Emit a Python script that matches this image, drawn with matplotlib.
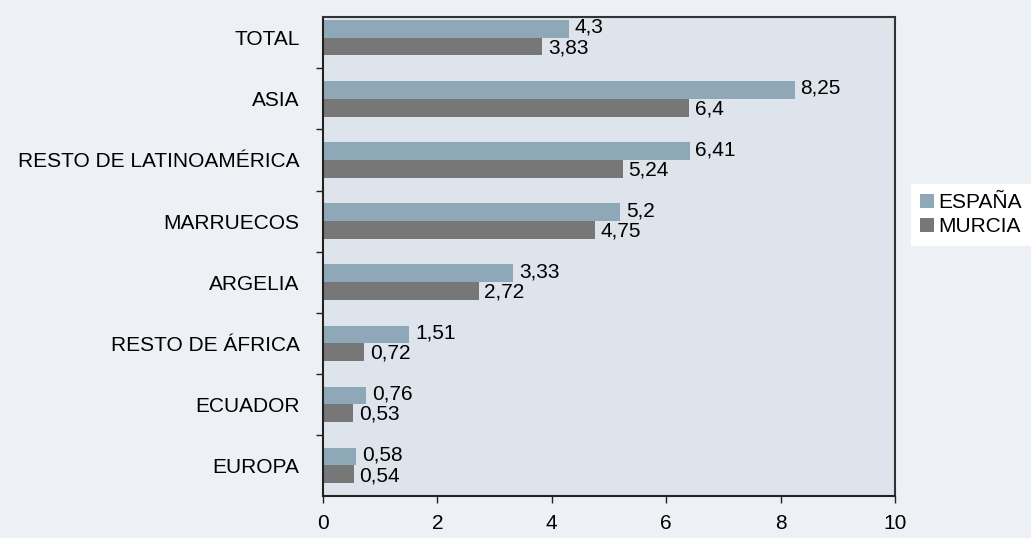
import matplotlib
matplotlib.use("Agg")
import matplotlib.pyplot as plt
import numpy as np

plt.rcParams['font.family'] = ['Liberation Sans', 'DejaVu Sans']

categories = ['TOTAL', 'ASIA', 'RESTO DE LATINOAMÉRICA', 'MARRUECOS',
              'ARGELIA', 'RESTO DE ÁFRICA', 'ECUADOR', 'EUROPA']
espana = [4.3, 8.25, 6.41, 5.2, 3.33, 1.51, 0.76, 0.58]
murcia = [3.83, 6.4, 5.24, 4.75, 2.72, 0.72, 0.53, 0.54]
espana_lbl = ['4,3', '8,25', '6,41', '5,2', '3,33', '1,51', '0,76', '0,58']
murcia_lbl = ['3,83', '6,4', '5,24', '4,75', '2,72', '0,72', '0,53', '0,54']

c_esp = '#8fa8b8'
c_mur = '#777777'
fs = 15

fig = plt.figure(figsize=(10.31, 5.38), dpi=100, facecolor='#edf1f5')
ax = fig.add_axes([323 / 1031, 42 / 538, 572 / 1031, 479 / 538])
ax.set_facecolor('#dde4eb')

y = np.arange(len(categories))
h = 0.29
ax.barh(y - h / 2, espana, height=h, color=c_esp, label='ESPAÑA')
ax.barh(y + h / 2, murcia, height=h, color=c_mur, label='MURCIA')

# value labels next to each bar end
for i in range(len(categories)):
    ax.text(espana[i] + 0.1, y[i] - h / 2 - 0.025, espana_lbl[i], va='center',
            ha='left', fontsize=fs)
    ax.text(murcia[i] + 0.1, y[i] + h / 2 + 0.02, murcia_lbl[i], va='center',
            ha='left', fontsize=fs)

ax.set_ylim(len(categories) - 0.5, -0.34)
ax.set_xlim(0, 10)
ax.set_xticks(range(0, 11, 2))
ax.set_yticks(y)
ax.set_yticklabels(categories, fontsize=fs)
ax.set_yticks(np.arange(0.5, len(categories) - 1, 1), minor=True)
ax.tick_params(axis='y', which='major', length=0, pad=17)
ax.tick_params(axis='y', which='minor', length=5, width=1, color='#222222')
ax.tick_params(axis='x', length=5, width=1, labelsize=fs, pad=8, color='#222222')

for s in ['left', 'bottom']:
    ax.spines[s].set_color('#222222')
    ax.spines[s].set_linewidth(1.5)
for s in ['top', 'right']:
    ax.spines[s].set_color('#333333')
    ax.spines[s].set_linewidth(1.5)

leg = ax.legend(loc='center left', bbox_to_anchor=(1.028, 0.587), fontsize=fs,
                frameon=True, fancybox=False, facecolor='white', framealpha=1,
                handlelength=0.65, handleheight=0.65, handletextpad=0.2,
                borderpad=0.45, labelspacing=0.25, borderaxespad=0)
leg.get_frame().set_linewidth(0)

fig.savefig('out.png', dpi=100, facecolor=fig.get_facecolor())
